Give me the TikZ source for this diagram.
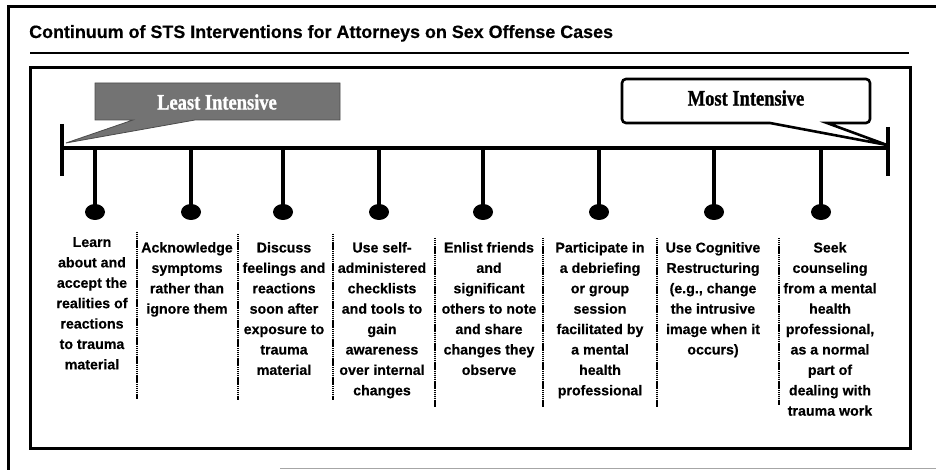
\documentclass[tikz,border=0pt]{standalone}
\usepackage{fontspec}
\usetikzlibrary{shapes.geometric}
\setmainfont{Liberation Sans}[BoldFeatures={FakeBold=0.4}]
\newfontfamily\callfont[FakeStretch=0.84,FakeBold=1.2]{Liberation Serif Bold}
\begin{document}
\begin{tikzpicture}[x=1pt,y=-1pt,
  frame/.style={line width=3pt,black},
  stem/.style={line width=3.3pt,black,line cap=butt},
  ball/.style={ellipse,fill=black,minimum width=20pt,minimum height=16pt,inner sep=0pt},
  sep/.style={line width=1.4pt,black,dash pattern=on 1.3pt off 0.6pt},
  item/.style={anchor=north,align=center,inner sep=0pt,
    font=\fontsize{14.2}{20.4}\selectfont\bfseries},
  calltext/.style={font=\callfont\fontsize{22}{24}\selectfont,inner sep=0pt}]
\useasboundingbox (0,0) rectangle (936,470);
% outer frame
\draw[frame] (8,470) -- (8,7) -- (936,7);
\draw[black!35,line width=0.8pt] (280,468.5) -- (936,468.5);
% title
\node[anchor=base west,inner sep=0pt,font=\fontsize{17.9}{20}\selectfont\bfseries] (title) at (29,38)
  {Continuum of STS Interventions for Attorneys on Sex Offense Cases};
\draw[line width=2pt] (30,53) -- (909,53);
% inner box
\draw[line width=3pt] (30,68) rectangle (910,448);
% timeline
\coordinate (tl) at (62,148);
\coordinate (tr) at (888,148);
\draw[stem] (tl) -- (tr);
\draw[stem] (62,124) -- (62,176);
\draw[stem] (888,127) -- (888,176);
% callouts
\draw[fill=black!55,draw=black!70,line width=0.8pt]
  (95,83) -- (340,83) -- (340,120) -- (195,120) -- (66,143) -- (133,120) -- (95,120) -- cycle;
\node[calltext,text=white] (least) at (217,102) {Least Intensive};
\draw[fill=white,line width=2.6pt,line join=miter]
  (770,123) [rounded corners=4pt] -- (622,123) -- (622,79) -- (870,79) -- (870,123) [sharp corners] -- (827,123) -- (887,145) -- cycle;
\node[calltext] (most) at (746,98) {Most Intensive};
% pendants
\foreach \i/\x in {1/95,2/191,3/283,4/379,5/483,6/599,7/714,8/821}{
  \node[ball] (b\i) at (\x,212) {};
  \draw[stem] (\x,148) -- (b\i.center);
}
% separators
\foreach \x/\a/\b in {137/232/399,238/234/400,333/234/400,435/238/407,543/238/407,657/238/407,779/238/405}{
  \draw[sep] (\x,\a) -- (\x,\b);
}
% texts
\node[item] (c1) at (92,237) {Learn\\about and\\accept the\\realities of\\reactions\\to trauma\\material};
\node[item] (c2) at (187,242) {Acknowledge\\symptoms\\rather than\\ignore them};
\node[item] (c3) at (284,242) {Discuss\\feelings and\\reactions\\soon after\\exposure to\\trauma\\material};
\node[item] (c4) at (382,242) {Use self-\\administered\\checklists\\and tools to\\gain\\awareness\\over internal\\changes};
\node[item] (c5) at (489,242) {Enlist friends\\and\\significant\\others to note\\and share\\changes they\\observe};
\node[item] (c6) at (600,242) {Participate in\\a debriefing\\or group\\session\\facilitated by\\a mental\\health\\professional};
\node[item] (c7) at (713,242) {Use Cognitive\\Restructuring\\(e.g., change\\the intrusive\\image when it\\occurs)};
\node[item] (c8) at (830,242) {Seek\\counseling\\from a mental\\health\\professional,\\as a normal\\part of\\dealing with\\trauma work};
\end{tikzpicture}
\end{document}
